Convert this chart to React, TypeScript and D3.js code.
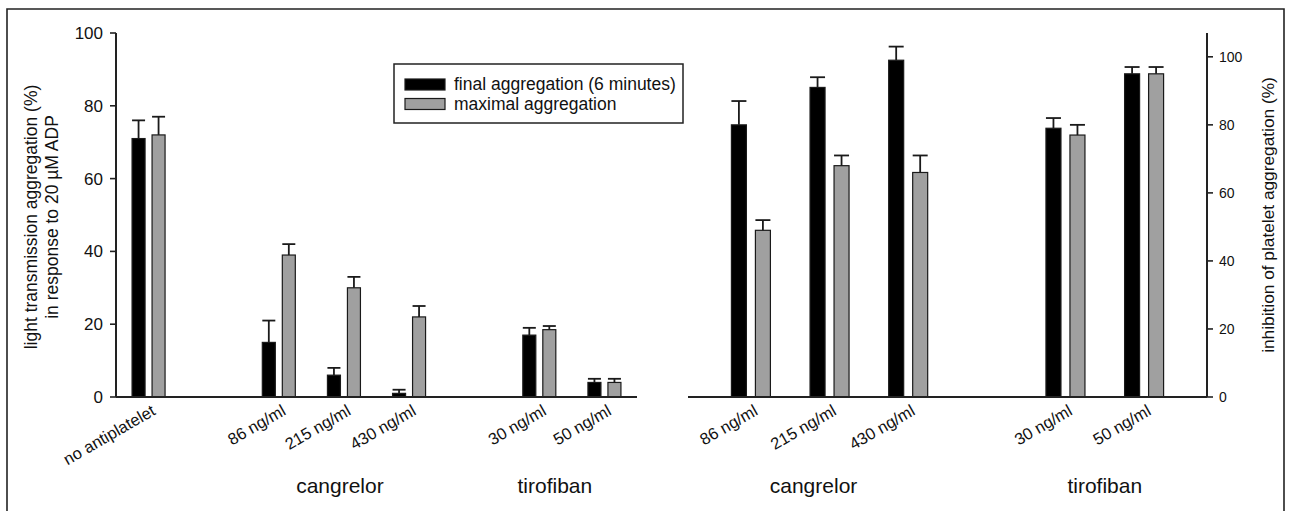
import React from "react";
import * as d3 from "d3";

// ---- data ----
const leftCategories = ["no antiplatelet", "", "86 ng/ml", "215 ng/ml", "430 ng/ml", "", "30 ng/ml", "50 ng/ml"];
const leftFinal = [71, null, 15, 6, 1, null, 17, 4];
const leftFinalErr = [5, null, 6, 2, 1, null, 2, 1];
const leftMax = [72, null, 39, 30, 22, null, 18.5, 4];
const leftMaxErr = [5, null, 3, 3, 3, null, 1, 1];

const rightCategories = ["86 ng/ml", "215 ng/ml", "430 ng/ml", "", "30 ng/ml", "50 ng/ml"];
const rightFinal = [80, 91, 99, null, 79, 95];
const rightFinalErr = [7, 3, 4, null, 3, 2];
const rightMax = [49, 68, 66, null, 77, 95];
const rightMaxErr = [3, 3, 5, null, 3, 2];

const leftTicks = [0, 20, 40, 60, 80, 100];
const rightTicks = [0, 20, 40, 60, 80, 100];

const seriesNames = ["final aggregation (6 minutes)", "maximal aggregation"];
const seriesColors = ["#000000", "#a0a0a0"];

const leftYTitle = ["light transmission aggregation (%)", "in response to 20 \u00b5M ADP"];
const rightYTitle = "inhibition of platelet aggregation (%)";
const groupLabels = ["cangrelor", "tirofiban"];

const FONT = "'Liberation Sans', Arial, Helvetica, sans-serif";

type PanelProps = {
  cats: string[];
  series: (number | null)[][];
  errs: (number | null)[][];
  x: d3.ScaleBand<number>;
  y: d3.ScaleLinear<number, number>;
  barW: number;
  gap: number;
};

function Bars({ cats, series, errs, x, y, barW, gap }: PanelProps) {
  const els: React.ReactNode[] = [];
  cats.forEach((c, i) => {
    const cx = (x(i) as number) + x.bandwidth() / 2;
    series.forEach((s, si) => {
      const v = s[i];
      const e = errs[si][i];
      if (v == null) return;
      const x0 = si === 0 ? cx - gap / 2 - barW : cx + gap / 2;
      const y0 = y(0);
      const yv = y(v);
      els.push(
        <rect key={`b${i}-${si}`} x={x0} y={yv} width={barW} height={y0 - yv}
          fill={seriesColors[si]} stroke="#1a1a1a" strokeWidth={1.2} />
      );
      if (e != null) {
        const ye = y(v + e);
        const mx = x0 + barW / 2;
        els.push(
          <g key={`e${i}-${si}`} stroke="#1a1a1a" strokeWidth={1.8}>
            <line x1={mx} x2={mx} y1={yv} y2={ye} />
            <line x1={x0} x2={x0 + barW} y1={ye} y2={ye} />
          </g>
        );
      }
    });
  });
  return <g>{els}</g>;
}

function XLabels({ cats, x, y0 }: { cats: string[]; x: d3.ScaleBand<number>; y0: number }) {
  return (
    <g>
      {cats.map((c, i) => {
        if (!c) return null;
        const cx = (x(i) as number) + x.bandwidth() / 2 + 8;
        const cy = y0 + 17;
        return (
          <text key={i} x={cx} y={cy} textAnchor="end" fontSize={16.5} fontFamily={FONT} fill="#111"
            transform={`rotate(-30 ${cx} ${cy})`}>{c}</text>
        );
      })}
    </g>
  );
}

export default function App() {
  const W = 1291, H = 511;
  const yTop = 33, yBot = 397;

  // left panel
  const lx = d3.scaleBand<number>().domain(d3.range(leftCategories.length)).range([116, 637]).paddingInner(0).paddingOuter(0);
  const ly = d3.scaleLinear().domain([0, 100]).range([yBot, yTop]);

  // right panel
  const rx = d3.scaleBand<number>().domain(d3.range(rightCategories.length)).range([688, 1207]).paddingInner(0).paddingOuter(0.3);
  const ry = d3.scaleLinear().domain([0, 107]).range([yBot, yTop]);

  const lc = (i: number) => (lx(i) as number) + lx.bandwidth() / 2;
  const rc = (i: number) => (rx(i) as number) + rx.bandwidth() / 2;

  return (
    <svg width={W} height={H} style={{ position: "absolute", left: 0, top: 0, background: "#fff" }}
      fontFamily={FONT}>
      <rect x={0} y={0} width={W} height={H} fill="#fff" />
      {/* frame */}
      <path d={`M7,${H + 2} V9 H1284 V${H + 2}`} fill="none" stroke="#222" strokeWidth={1.6} />

      {/* ---- left panel ---- */}
      <Bars cats={leftCategories} series={[leftFinal, leftMax]} errs={[leftFinalErr, leftMaxErr]}
        x={lx} y={ly} barW={13} gap={7} />
      <line x1={116} x2={637} y1={yBot} y2={yBot} stroke="#222" strokeWidth={2} />
      <line x1={116} x2={116} y1={yBot} y2={yTop} stroke="#222" strokeWidth={2} />
      {leftTicks.map((t) => (
        <g key={t}>
          <line x1={110} x2={116} y1={ly(t)} y2={ly(t)} stroke="#222" strokeWidth={1.6} />
          <text x={103} y={ly(t)} dy="0.35em" textAnchor="end" fontSize={17} fill="#111">{t}</text>
        </g>
      ))}
      <g transform="translate(37,217) rotate(-90)">
        <text x={0} y={0} textAnchor="middle" fontSize={17.5} fill="#111">{leftYTitle[0]}</text>
        <text x={0} y={21} textAnchor="middle" fontSize={17.5} fill="#111">{leftYTitle[1]}</text>
      </g>
      <XLabels cats={leftCategories} x={lx} y0={yBot} />
      <text x={(lc(3)) - 4} y={493} textAnchor="middle" fontSize={21} fill="#111">{groupLabels[0]}</text>
      <text x={(lc(6) + lc(7)) / 2 - 17} y={493} textAnchor="middle" fontSize={21} fill="#111">{groupLabels[1]}</text>

      {/* legend */}
      <rect x={394} y={64} width={289} height={59} fill="#fff" stroke="#222" strokeWidth={1.5} />
      {seriesNames.map((s, i) => (
        <g key={s}>
          <rect x={405} y={79 + i * 19.5} width={40} height={11} fill={seriesColors[i]} stroke="#1a1a1a" strokeWidth={1.2} />
          <text x={454} y={90 + i * 19.5} fontSize={17.5} fill="#111">{s}</text>
        </g>
      ))}

      {/* ---- right panel ---- */}
      <Bars cats={rightCategories} series={[rightFinal, rightMax]} errs={[rightFinalErr, rightMaxErr]}
        x={rx} y={ry} barW={15} gap={9} />
      <line x1={688} x2={1207} y1={yBot} y2={yBot} stroke="#222" strokeWidth={2} />
      <line x1={1207} x2={1207} y1={yBot} y2={yTop} stroke="#222" strokeWidth={2} />
      {rightTicks.map((t) => (
        <g key={t}>
          <line x1={1207} x2={1213} y1={ry(t)} y2={ry(t)} stroke="#222" strokeWidth={1.6} />
          <text x={1219} y={ry(t)} dy="0.35em" textAnchor="start" fontSize={14} fill="#111">{t}</text>
        </g>
      ))}
      <text transform="translate(1274,215) rotate(-90)" textAnchor="middle" fontSize={17.3} fill="#111">{rightYTitle}</text>
      <XLabels cats={rightCategories} x={rx} y0={yBot} />
      <text x={rc(1) - 16} y={493} textAnchor="middle" fontSize={21} fill="#111">{groupLabels[0]}</text>
      <text x={(rc(4) + rc(5)) / 2} y={493} textAnchor="middle" fontSize={21} fill="#111">{groupLabels[1]}</text>
    </svg>
  );
}
